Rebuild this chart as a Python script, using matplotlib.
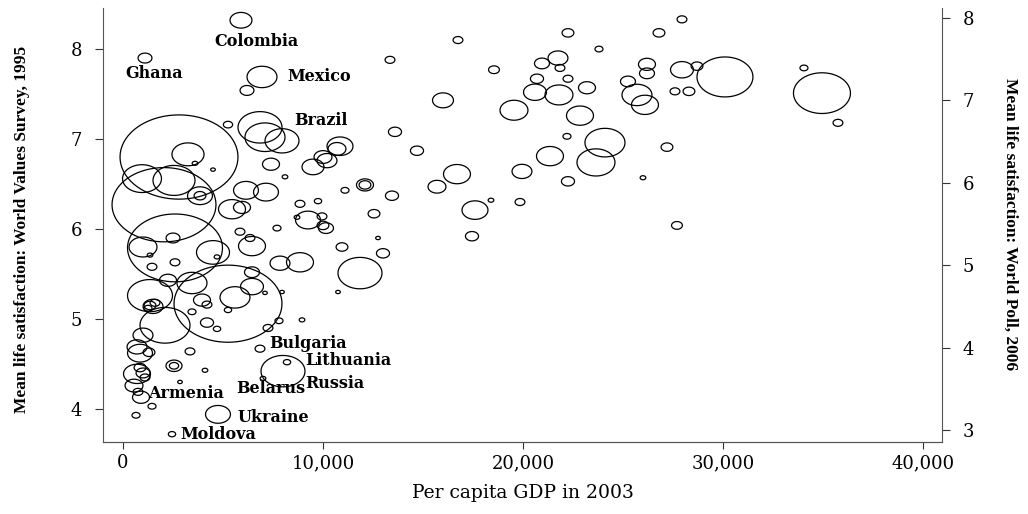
import numpy as np
import matplotlib
matplotlib.use("Agg")
import matplotlib.pyplot as plt
from matplotlib.path import Path

# Labelled countries
names = ["Colombia", "Ghana", "Mexico", "Brazil", "Bulgaria", "Lithuania",
         "Russia", "Belarus", "Armenia", "Ukraine", "Moldova"]

# per capita GDP 2003, mean life satisfaction (left scale), population (millions)
gdp = [5900, 1100, 6950, 6850, 6850, 8200, 8000, 7000, 750, 4750, 2450,
       6200, 7100, 7950, 2800, 2050, 2600, 5250, 3250, 3600, 4500,
       950, 2550, 3850, 3850, 5450, 5950, 6150, 7150, 7400, 8100,
       5250, 5850, 6350, 6450, 2500, 1000, 4500, 1350, 7700, 8700,
       9500, 10000, 10700, 10850, 10200, 10000, 13600, 14700, 16000, 16700,
       15700, 17600, 17450, 11100, 12100, 12100, 13450, 8850, 9750, 12550,
       9250, 9950, 10150, 12750, 10950, 13000, 7850, 8850, 11850, 7950,
       10750, 16750, 13350, 18550, 19550, 19950, 21350, 22250, 22200, 23650,
       24100, 22850, 20600, 21800, 20700, 20950, 21750, 21850, 22250, 22250,
       23200, 23800, 25250, 25700, 26100, 26200, 26200, 26800, 27200, 26000,
       27700, 27950, 27950, 27600, 28300, 28700, 30100, 34050, 34950, 35750,
       18400, 19850, 1350, 1500, 1350, 1600, 1250, 2250, 3450, 2100,
       4200, 4700, 5600, 6450, 3950, 4200, 3450, 5250, 6450, 7100,
       7800, 7250, 1000, 700, 850, 1300, 3350, 2550, 2550, 4100,
       2850, 700, 1000, 1100, 850, 550, 900, 1450, 650, 8950,
       1450, 2600, 4700]

satisfaction = [8.32, 7.90, 7.69, 7.13, 4.67, 4.52, 4.42, 4.34, 4.19, 3.94, 3.72,
                7.54, 7.02, 6.98, 6.80, 6.27, 5.79, 5.17, 6.83, 6.73, 6.66,
                6.56, 6.54, 6.37, 6.37, 6.22, 6.24, 6.43, 6.41, 6.72, 6.58,
                7.16, 5.97, 5.90, 5.81, 5.90, 5.80, 5.74, 5.71, 6.01, 6.13,
                6.69, 6.80, 6.89, 6.92, 6.76, 6.04, 7.08, 6.87, 7.43, 6.61,
                6.47, 6.21, 5.92, 6.43, 6.49, 6.49, 6.37, 6.28, 6.31, 6.17,
                6.10, 6.14, 6.01, 5.90, 5.80, 5.73, 5.62, 5.63, 5.51, 5.30,
                5.30, 8.10, 7.88, 7.77, 7.32, 6.64, 6.81, 6.53, 7.03, 6.74,
                6.96, 7.26, 7.52, 7.49, 7.67, 7.84, 7.90, 7.79, 8.18, 7.67,
                7.57, 8.00, 7.64, 7.49, 7.38, 7.83, 7.73, 8.18, 6.91, 6.57,
                6.04, 8.33, 7.77, 7.53, 7.53, 7.81, 7.69, 7.79, 7.51, 7.18,
                6.32, 6.30, 5.26, 5.14, 5.15, 5.18, 5.12, 5.43, 5.40, 4.93,
                4.96, 4.89, 5.24, 5.36, 5.21, 5.16, 5.08, 5.10, 5.52, 5.29,
                4.98, 4.90, 4.82, 4.69, 4.62, 4.63, 4.64, 4.48, 4.48, 4.43,
                4.30, 4.39, 4.40, 4.35, 4.46, 4.26, 4.13, 4.03, 3.93, 4.99,
                5.58, 5.63, 5.69]

population = [45, 18, 84, 181, 9, 5, 181, 3, 9, 58, 5,
              18, 150, 108, 1302, 1011, 844, 1091, 96, 3, 2,
              142, 165, 58, 13, 68, 27, 58, 58, 27, 3,
              8, 9, 9, 68, 18, 73, 102, 3, 6, 3,
              45, 30, 30, 63, 37, 13, 16, 16, 41, 68,
              30, 63, 16, 6, 27, 13, 16, 9, 5, 13,
              58, 9, 21, 2, 13, 16, 37, 68, 181, 2,
              2, 9, 9, 11, 73, 37, 68, 16, 6, 135,
              150, 68, 49, 73, 16, 21, 37, 9, 13, 9,
              27, 6, 21, 84, 68, 27, 21, 13, 13, 3,
              11, 9, 49, 9, 13, 13, 293, 6, 304, 9,
              3, 9, 189, 37, 13, 9, 6, 27, 84, 234,
              16, 5, 84, 49, 27, 9, 6, 5, 21, 2,
              6, 9, 37, 37, 58, 13, 9, 24, 8, 3,
              2, 68, 18, 9, 13, 30, 27, 6, 6, 3,
              9, 9, 3]

x_ticks = [0, 10000, 20000, 30000, 40000]
left_ticks = [4, 5, 6, 7, 8]
right_ticks = [3, 4, 5, 6, 7, 8]

# where each name sits relative to its bubble (points)
label_offsets = {"Colombia": (-19, -15), "Ghana": (-14, -11), "Mexico": (18, 0),
                 "Brazil": (25, 5), "Bulgaria": (7, 4), "Lithuania": (13, 1.5),
                 "Russia": (16, -9), "Belarus": (-19, -7), "Armenia": (7, -1),
                 "Ukraine": (14, -2), "Moldova": (6, 0)}

# bubbles in the original are stretched sideways
t = np.linspace(0, 2 * np.pi, 73)
ellipse = Path(np.column_stack([1.4 * np.cos(t), np.sin(t)]), closed=True)

fig = plt.figure(figsize=(10.28, 5.14), dpi=100)
ax = fig.add_axes([0.1002, 0.1401, 0.8161, 0.8443])

ax.scatter(gdp, satisfaction, s=np.array(population) * 5.54, marker=ellipse,
           facecolors="none", edgecolors="black", linewidths=0.9)

ax.set_xlim(-1000, 40950)
ax.set_ylim(3.633, 8.456)
ax.set_xticks(x_ticks)
ax.set_xticklabels([f"{v:,}" for v in x_ticks])
ax.set_yticks(left_ticks)

ax2 = ax.twinx()
ax2.set_ylim(2.854, 8.12)
ax2.set_yticks(right_ticks)

for a in (ax, ax2):
    a.spines["top"].set_visible(False)
    for sp in a.spines.values():
        sp.set_color("#555555")
        sp.set_linewidth(0.8)
    for lab in a.get_xticklabels() + a.get_yticklabels():
        lab.set_fontfamily("DejaVu Serif")
        lab.set_fontsize(13)
ax2.spines["left"].set_visible(False)
ax.spines["right"].set_visible(False)

ax.tick_params(axis="y", direction="out", length=6, pad=9, color="#333333")
ax.tick_params(axis="x", direction="out", length=5, pad=4, color="#333333")
ax2.tick_params(axis="y", direction="out", length=6, pad=9, color="#333333")

ax.set_xlabel("Per capita GDP in 2003", fontfamily="DejaVu Serif", fontsize=13.5,
              labelpad=8)
ax.set_ylabel("Mean life satisfaction: World Values Survey, 1995",
              fontfamily="Liberation Serif", fontweight="bold", fontsize=12.5,
              rotation=90, ha="center", va="center")
ax.yaxis.set_label_coords(-0.0965, 0.49)
ax2.set_ylabel("Mean life satisfaction: World Poll, 2006",
               fontfamily="Liberation Serif", fontweight="bold", fontsize=12.5,
               rotation=270, ha="center", va="center")
ax2.yaxis.set_label_coords(1.081, 0.502)

for i, name in enumerate(names):
    ax.annotate(name, (gdp[i], satisfaction[i]), xytext=label_offsets[name],
                textcoords="offset points", ha="left", va="center",
                fontfamily="DejaVu Serif", fontweight="bold", fontsize=11.5)

fig.savefig("out.png", dpi=100)
